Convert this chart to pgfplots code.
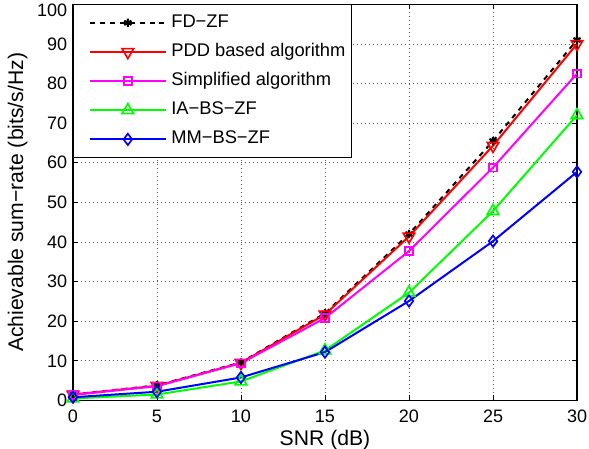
\documentclass[border=0pt]{standalone}
\usepackage{fontspec}
\setmainfont{Liberation Sans}
\usepackage{pgfplots}
\pgfplotsset{compat=1.18}
\definecolor{mmag}{rgb}{1,0,1}
\definecolor{mgreen}{rgb}{0,1,0}
\definecolor{mblue}{rgb}{0,0,1}
\definecolor{mred}{rgb}{1,0,0}
\begin{document}
\begin{tikzpicture}
\begin{axis}[
  scale only axis,
  width=302.6pt, height=237.8pt,
  xmin=0, xmax=30, ymin=0, ymax=100,
  xtick={0,5,...,30}, ytick={0,10,...,100},
  yticklabels={0,10,20,30,40,50,60,70,80,90,\smash{\raisebox{-7.2pt}{100}}},
  tick align=inside,
  major tick length=3pt,
  grid=major,
  grid style={dotted, black!65, line width=0.5pt},
  axis line style={line width=0.7pt},
  tick style={black, line width=0.5pt},
  /pgf/number format/assume math mode=true,
  ticklabel style={font=\fontsize{10.8pt}{12pt}\selectfont},
  xticklabel style={yshift=-2.2pt},
  xlabel={SNR (dB)},
  ylabel={Achievable sum−rate (bits/s/Hz)},
  label style={font=\fontsize{12.7pt}{15pt}\selectfont},
  xlabel style={yshift=2.2pt},
  ylabel style={yshift=-1.2pt},
  legend cell align=left,
  legend style={at={(0,1)}, anchor=north west, draw=black, line width=0.7pt,
    font=\fontsize{11pt}{13pt}\selectfont, fill=white,
    inner xsep=1pt, inner ysep=2pt, row sep=0pt,
    nodes={inner ysep=3.5pt, text height=8pt, text depth=2.5pt, inner xsep=2.5pt}},
  legend image code/.code={
    \path (-8pt,0);
    \draw[mark repeat=2,mark phase=2,#1] plot coordinates {(0pt,0pt) (23pt,0pt) (46pt,0pt)};
  },
  every axis plot/.append style={line width=1.2pt},
]
\addplot[black, dashed, mark=asterisk, mark size=2.5pt, mark options={solid, line width=1.3pt}]
  coordinates {(0,1.5) (5,3.8) (10,9.6) (15,22.0) (20,42.0) (25,65.5) (30,91.0)};
\addlegendentry{FD−ZF}
\addplot[mred, mark=triangle, mark size=4pt, mark options={solid, rotate=180, line width=1pt}]
  coordinates {(0,1.5) (5,3.7) (10,9.5) (15,21.7) (20,41.4) (25,64.3) (30,90.0)};
\addlegendentry{PDD based algorithm}
\addplot[mmag, mark=square, mark size=2.3pt, mark options={solid, line width=1pt}]
  coordinates {(0,1.4) (5,3.6) (10,9.4) (15,20.8) (20,37.7) (25,58.8) (30,82.5)};
\addlegendentry{Simplified algorithm}
\addplot[mgreen, mark=triangle, mark size=4pt, mark options={solid, line width=1pt}]
  coordinates {(0,0.5) (5,1.5) (10,4.8) (15,12.6) (20,27.2) (25,47.8) (30,72.0)};
\addlegendentry{IA−BS−ZF}
\addplot[mblue, mark=diamond, mark size=3.4pt, mark options={solid, line width=1pt}]
  coordinates {(0,0.8) (5,2.2) (10,5.8) (15,12.2) (20,25.1) (25,40.2) (30,57.7)};
\addlegendentry{MM−BS−ZF}
\end{axis}
\path (current axis.north east) ++(7.2pt,2.6pt) coordinate (ne);
\path (current axis.south west) ++(-43.8pt,-29pt) coordinate (sw);
\pgfresetboundingbox
\path (sw) rectangle (ne);
\end{tikzpicture}
\end{document}
